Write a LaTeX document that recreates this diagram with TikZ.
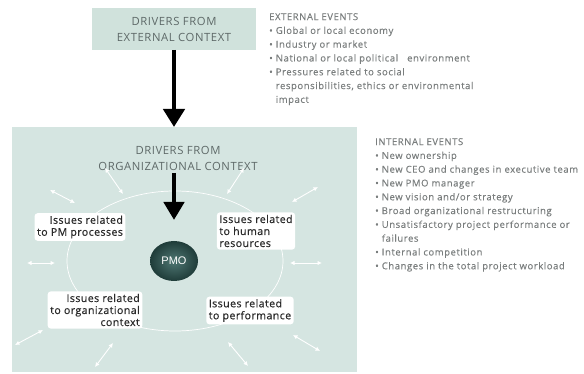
\documentclass[tikz,border=0pt]{standalone}
\usepackage{fontspec}
\setmainfont{Open Sans}
\newfontfamily\hdrfont[LetterSpace=5]{Open Sans}
\newfontfamily\issuefont[LetterSpace=4,FakeBold=0.5]{Open Sans}
\newfontfamily\lstfont[LetterSpace=6,FakeBold=0.3]{Open Sans}
\newfontfamily\pmofont{Liberation Sans}
\usetikzlibrary{arrows.meta,shapes.geometric}
\definecolor{boxfill}{HTML}{D0E2DC}
\definecolor{bigfill}{HTML}{D5E5E1}
\definecolor{hdrtext}{HTML}{5E6968}
\definecolor{listtext}{HTML}{7A7E7E}
\definecolor{issuetext}{HTML}{2A2A2A}
\definecolor{pmoouter}{HTML}{1F3C39}
\definecolor{pmoinner}{HTML}{4F7773}
\tikzset{
  hdr/.style={font=\hdrfont\fontsize{11.3}{16}\selectfont, text=hdrtext, align=center},
  issue/.style={fill=white, rounded corners=3pt, font=\issuefont\fontsize{10.6}{12}\selectfont, text=issuetext, inner sep=2.5pt},
  bigarrow/.style={line width=4.5pt, -{Triangle[width=21pt,length=18pt]}},
  dbl/.style={white, line width=0.9pt, {Latex[width=4.5pt,length=4.5pt]}-{Latex[width=4.5pt,length=4.5pt]}},
  lst/.style={font=\lstfont\fontsize{9.5}{13.8}\selectfont, text=listtext, align=left, anchor=north west, inner sep=0pt}
}
\begin{document}
\begin{tikzpicture}[x=1pt,y=-1pt]
\useasboundingbox (0,0) rectangle (584,374);
% top box
\node[fill=boxfill, minimum width=164pt, minimum height=42pt, inner sep=0pt] (ext) at (174,29) {};
\node[hdr] (exttext) at (174,29) {DRIVERS FROM\\EXTERNAL CONTEXT};
% big box
\node[fill=bigfill, minimum width=345pt, minimum height=245pt, inner sep=0pt] (org) at (184.5,249.5) {};
\node[hdr] (orgtext) at (178,158) {DRIVERS FROM\\ORGANIZATIONAL CONTEXT};
% ellipse
\node[ellipse, draw=white, line width=0.7pt, minimum width=216pt, minimum height=140pt, inner sep=0pt] (ring) at (175,261) {};
% PMO
\node[ellipse, minimum width=48pt, minimum height=40pt, inner color=pmoinner, outer color=pmoouter, text=white, font=\pmofont\fontsize{11}{12}\selectfont, inner sep=0pt] (pmo) at (174,261) {PMO};
% arrows
\coordinate (extbot) at (174,50);
\coordinate (orgtop) at (174,127);
\draw[bigarrow] (extbot) -- (orgtop);
\coordinate (a2s) at (174,173);
\coordinate (a2e) at (174,220);
\draw[bigarrow, -{Triangle[width=20pt,length=18pt]}] (a2s) -- (a2e);
% issue boxes
\node[issue, align=right] (pm) at (80,227) {Issues related\\to PM processes};
\node[issue, align=left] (hr) at (256,231) {Issues related\\to human\\resources};
\node[issue, align=right] (oc) at (95,310) {Issues related\\to organizational\\context};
\node[issue, align=left] (pf) at (250,310.5) {Issues related\\to performance};
% double arrows
\coordinate (d1a) at (50,190); \coordinate (d1b) at (75,203);
\coordinate (d2a) at (105,168); \coordinate (d2b) at (123,194);
\coordinate (d3a) at (227,194); \coordinate (d3b) at (244,168);
\coordinate (d4a) at (292,202); \coordinate (d4b) at (318,187);
\coordinate (d5a) at (290,263); \coordinate (d5b) at (322,263);
\coordinate (d6a) at (293,335); \coordinate (d6b) at (320,351);
\coordinate (d7a) at (228,342); \coordinate (d7b) at (248,366);
\coordinate (d8a) at (95,367); \coordinate (d8b) at (113,343);
\coordinate (d9a) at (15,345); \coordinate (d9b) at (43,330);
\coordinate (d10a) at (27,263); \coordinate (d10b) at (55,263);
\foreach \i in {1,...,10} {\draw[dbl] (d\i a) -- (d\i b);}
% lists
\node[lst] (extlist) at (269,13) {EXTERNAL EVENTS\\
\textbullet\ Global or local economy\\
\textbullet\ Industry or market\\
\textbullet\ National or local political \ \ environment\\
\textbullet\ Pressures related to social\\
\phantom{\textbullet\ }responsibilities, ethics or environmental\\
\phantom{\textbullet\ }impact};
\node[lst] (intlist) at (375,138) {INTERNAL EVENTS\\
\textbullet\ New ownership\\
\textbullet\ New CEO and changes in executive team\\
\textbullet\ New PMO manager\\
\textbullet\ New vision and/or strategy\\
\textbullet\ Broad organizational restructuring\\
\textbullet\ Unsatisfactory project performance or\\
\phantom{\textbullet\ }failures\\
\textbullet\ Internal competition\\
\textbullet\ Changes in the total project workload};
\end{tikzpicture}
\end{document}
